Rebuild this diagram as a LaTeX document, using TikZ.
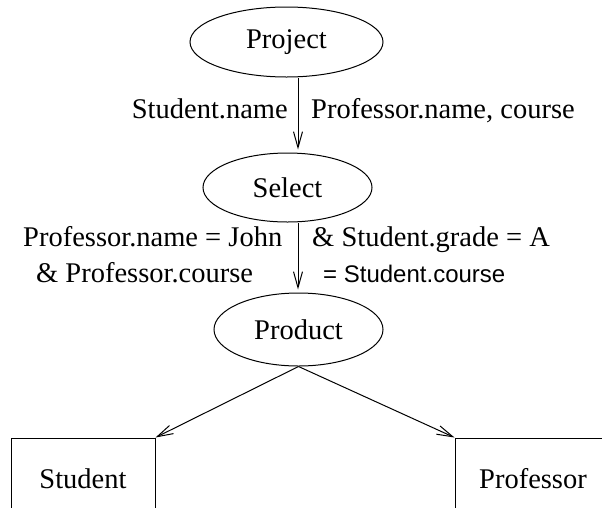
\documentclass[tikz,border=0pt]{standalone}
\usepackage{fontspec}
\setmainfont{Liberation Serif}
\newfontfamily\lserif{Liberation Serif}
\newfontfamily\lsans{Liberation Sans}
\usetikzlibrary{shapes.geometric,arrows.meta}
\begin{document}
\begin{tikzpicture}[x=1pt,y=-1pt,
  every node/.style={font=\lserif\fontsize{28.5}{34}\selectfont},
  oper/.style={draw, ellipse, inner sep=0pt, line width=1pt},
  rel/.style={draw, rectangle, inner sep=0pt, line width=1pt, minimum height=82pt},
  lab/.style={inner sep=0pt},
  arr/.style={line width=1pt, -{Straight Barb[length=16pt,width=9pt]}}]
\useasboundingbox (0,0) rectangle (602,507);
\clip (0,0) rectangle (602,507);
\node[oper, minimum width=193pt, minimum height=70pt] (proj) at (286.5,42) {Project};
\node[oper, minimum width=169pt, minimum height=69pt] (sel) at (287.5,187.5) {Select};
\node[oper, minimum width=169pt, minimum height=73pt] (prod) at (298.5,329.5) {Product};
\node[rel, minimum width=144pt] (stud) at (83,479) {Student};
\node[rel, minimum width=156pt] (prof) at (533,479) {Professor};
\coordinate (ax) at (298,0);
\draw[arr, shorten >=3pt] (proj.south -| ax) -- (sel.north -| ax);
\draw[arr, shorten >=3pt] (sel.south -| ax) -- (prod.north -| ax);
\draw[arr] (prod.south) -- (stud.north east);
\draw[arr] (prod.south) -- (prof.north west);
\node[lab, anchor=base east] (l1) at (288,118) {Student.name};
\node[lab, anchor=base west] (l2) at (311,118) {Professor.name, course};
\node[lab, anchor=base west] (l3) at (23,246) {Professor.name = John};
\node[lab, anchor=base west] (l4) at (312,246) {\& Student.grade = A};
\node[lab, anchor=base west] (l5) at (36,282) {\& Professor.course};
\node[lab, anchor=base west, font=\lsans\fontsize{24}{29}\selectfont] (l6) at (323,282) {= Student.course};
\end{tikzpicture}
\end{document}
